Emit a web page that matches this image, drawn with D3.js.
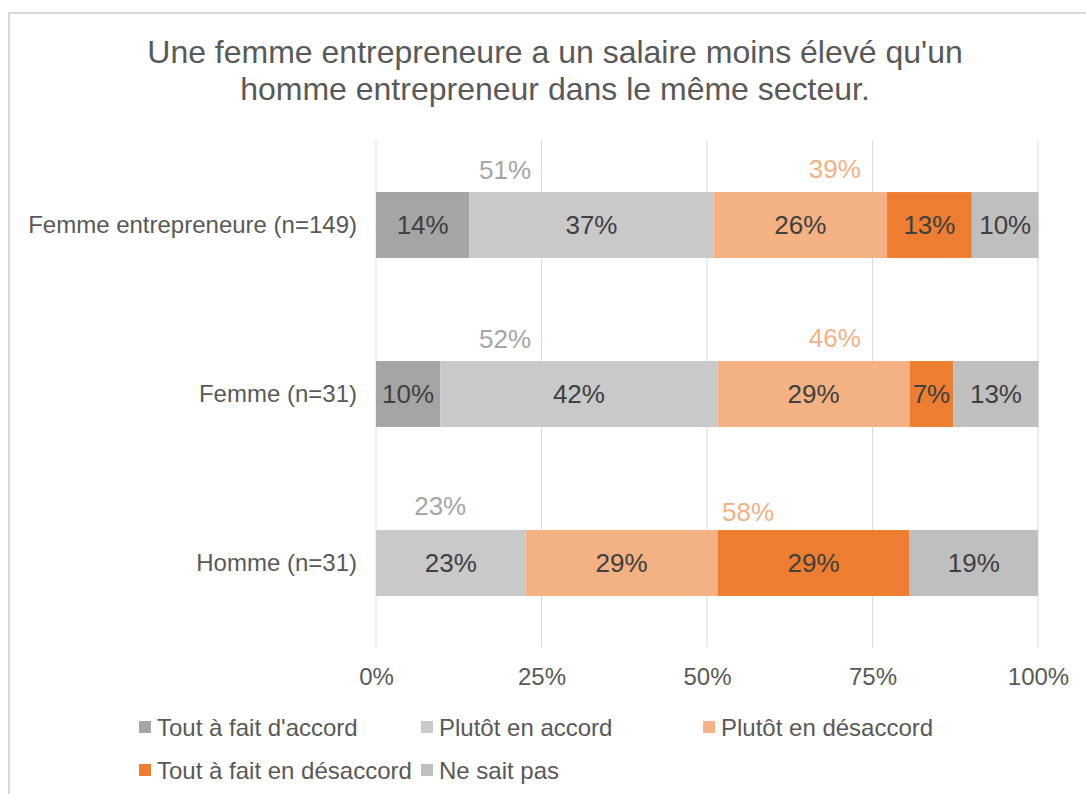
<!DOCTYPE html>
<html>
<head>
<meta charset="utf-8">
<script src="https://cdn.jsdelivr.net/npm/d3@7"></script>
<style>
  html, body { margin: 0; padding: 0; background: #ffffff; }
  svg { display: block; font-family: "Liberation Sans", Arial, sans-serif; }
</style>
</head>
<body>
<svg id="chart" width="1086" height="794"></svg>
<script>
// ---- data ----
const categories = ["Femme entrepreneure (n=149)", "Femme (n=31)", "Homme (n=31)"];
const seriesNames = ["Tout à fait d'accord", "Plutôt en accord", "Plutôt en désaccord", "Tout à fait en désaccord", "Ne sait pas"];
const seriesColors = ["#a5a5a5", "#c9c9c9", "#f4b183", "#ed7d31", "#bfbfbf"];
const toutAFaitDaccord = [14.1, 9.7, 0];
const plutotEnAccord = [36.9, 41.9, 22.6];
const plutotEnDesaccord = [26.2, 29.0, 29.0];
const toutAFaitEnDesaccord = [12.8, 6.6, 29.0];
const neSaitPas = [10.1, 12.9, 19.4];
const totalAccordLabels = ["51%", "52%", "23%"];
const totalDesaccordLabels = ["39%", "46%", "58%"];
const totalAccordAnchor = [19.5, 19.5, 9.7];      // position along the % axis
const totalDesaccordAnchor = [69.3, 69.3, 56.2];
const xTicks = [0, 25, 50, 75, 100];
const titleLines = ["Une femme entrepreneure a un salaire moins élevé qu'un", "homme entrepreneur dans le même secteur."];

// ---- layout ----
const svg = d3.select("#chart");
const plot = { left: 376, right: 1038, top: 140.5, bottom: 647.5 };
const textColor = "#595959";

svg.append("rect")
  .attr("x", 9).attr("y", 13).attr("width", 1200).attr("height", 900)
  .attr("fill", "#ffffff").attr("stroke", "#d9d9d9").attr("stroke-width", 2);

const x = d3.scaleLinear().domain([0, 100]).range([plot.left, plot.right]);
const y = d3.scaleBand().domain(categories).range([plot.top, plot.bottom])
  .paddingInner(0.61).paddingOuter(0.305);

// title
svg.append("g").selectAll("text").data(titleLines).join("text")
  .attr("x", 555).attr("y", (d, i) => 63 + i * 37)
  .attr("text-anchor", "middle").attr("font-size", 32).attr("fill", textColor)
  .text(d => d);

// gridlines
svg.append("g").selectAll("line").data(xTicks).join("line")
  .attr("x1", d => x(d)).attr("x2", d => x(d))
  .attr("y1", plot.top).attr("y2", plot.bottom)
  .attr("stroke", "#d9d9d9").attr("stroke-width", 1);

// x axis labels
const xAxis = d3.axisBottom(x).tickValues(xTicks).tickFormat(d => d + "%").tickSize(0).tickPadding(0);
const gx = svg.append("g").attr("transform", `translate(0,${plot.bottom + 37})`).call(xAxis);
gx.select(".domain").remove();
gx.selectAll("text").attr("font-size", 24).attr("fill", textColor)
  .attr("font-family", "Liberation Sans, Arial, sans-serif").attr("dy", null);

// y axis labels
const yAxis = d3.axisLeft(y).tickSize(0).tickPadding(19);
const gy = svg.append("g").attr("transform", `translate(${plot.left},0)`).call(yAxis);
gy.select(".domain").remove();
gy.selectAll("text").attr("font-size", 24).attr("fill", textColor)
  .attr("font-family", "Liberation Sans, Arial, sans-serif");

// stacked data
const seriesValues = [toutAFaitDaccord, plutotEnAccord, plutotEnDesaccord, toutAFaitEnDesaccord, neSaitPas];
const rows = categories.map((c, i) => {
  const r = { cat: c };
  seriesNames.forEach((s, j) => r[s] = seriesValues[j][i]);
  return r;
});
const stacked = d3.stack().keys(seriesNames)(rows);

const layers = svg.append("g").selectAll("g").data(stacked).join("g")
  .attr("fill", (d, i) => seriesColors[i]);
layers.selectAll("rect").data(d => d).join("rect")
  .attr("x", d => x(d[0])).attr("width", d => x(d[1]) - x(d[0]))
  .attr("y", d => y(d.data.cat)).attr("height", y.bandwidth());

// segment labels
const lab = svg.append("g");
stacked.forEach(layer => {
  layer.forEach(d => {
    const v = d[1] - d[0];
    if (v <= 0) return;
    lab.append("text")
      .attr("x", x((d[0] + d[1]) / 2))
      .attr("y", y(d.data.cat) + y.bandwidth() / 2)
      .attr("dy", "0.36em")
      .attr("text-anchor", "middle").attr("font-size", 26).attr("fill", "#404040")
      .text(Math.round(v) + "%");
  });
});

// total labels above bars
svg.append("g").selectAll("text").data(categories).join("text")
  .attr("x", (d, i) => x(totalAccordAnchor[i]))
  .attr("y", (d, i) => y(d) - (i === 2 ? 15 : 13))
  .attr("text-anchor", "middle").attr("font-size", 26).attr("fill", "#a6a6a6")
  .text((d, i) => totalAccordLabels[i]);
svg.append("g").selectAll("text").data(categories).join("text")
  .attr("x", (d, i) => x(totalDesaccordAnchor[i]))
  .attr("y", (d, i) => y(d) - (i === 2 ? 9 : 14))
  .attr("text-anchor", "middle").attr("font-size", 26).attr("fill", "#f4b183")
  .text((d, i) => totalDesaccordLabels[i]);

// legend
const legendPos = [[139, 727], [421, 727], [703, 727], [139, 770], [421, 770]];
const lg = svg.append("g").selectAll("g").data(seriesNames).join("g")
  .attr("transform", (d, i) => `translate(${legendPos[i][0]},${legendPos[i][1]})`);
lg.append("rect").attr("x", 0).attr("y", -6).attr("width", 12).attr("height", 12)
  .attr("fill", (d, i) => seriesColors[i]);
lg.append("text").attr("x", 18).attr("y", 0).attr("dy", "0.36em")
  .attr("font-size", 24).attr("fill", textColor).text(d => d);
</script>
</body>
</html>
